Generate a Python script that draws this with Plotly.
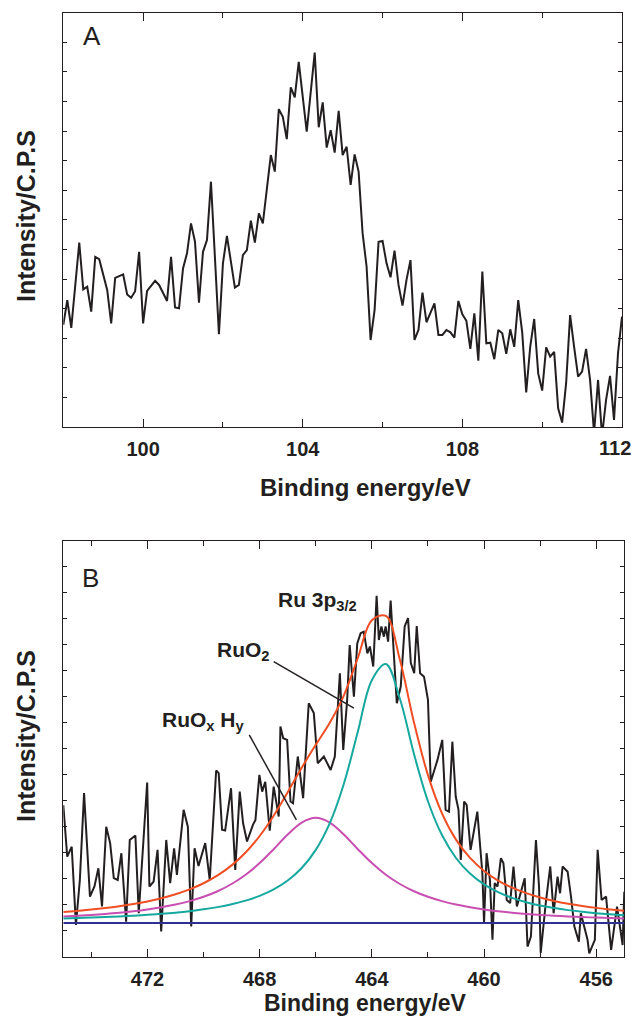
import plotly.graph_objects as go

# ---------------- Panel A data (binding energy, eV ; intensity, a.u.) ----------------
A_energy = [98.0,98.1,98.2,98.4,98.5,98.6,98.7,98.8,98.9,99.1,99.2,99.3,99.5,99.6,99.7,99.8,99.9,100.0,100.1,100.3,
            100.4,100.6,100.7,100.8,100.9,101.0,101.1,101.2,101.3,101.4,101.5,101.6,101.7,101.9,102.0,102.1,102.3,102.4,102.5,102.6,
            102.7,102.8,102.9,103.0,103.2,103.3,103.4,103.5,103.6,103.7,103.8,103.9,104.1,104.3,104.4,104.5,104.6,104.7,104.8,104.9,
            105.0,105.1,105.2,105.3,105.4,105.5,105.6,105.7,105.8,105.9,106.0,106.1,106.2,106.3,106.4,106.5,106.6,106.7,106.8,106.9,
            107.0,107.1,107.2,107.3,107.4,107.5,107.6,107.7,107.8,107.9,108.0,108.1,108.2,108.3,108.4,108.5,108.6,108.7,108.8,108.9,
            109.0,109.1,109.2,109.3,109.4,109.5,109.6,109.7,109.8,109.9,110.0,110.1,110.2,110.3,110.4,110.5,110.6,110.7,110.8,110.9,
            111.0,111.1,111.2,111.3,111.4,111.5,111.6,111.7,111.8,111.9,112.0]
A_intensity = [3.45,4.29,3.35,6.23,4.65,4.74,3.90,5.75,5.67,4.63,3.50,5.04,5.16,4.48,4.37,4.59,5.92,3.50,4.60,4.94,
               4.80,4.26,5.75,4.04,4.01,5.36,5.87,6.88,6.26,4.20,5.92,6.32,8.29,3.14,5.53,6.46,4.71,4.80,5.81,5.98,
               6.97,6.23,7.22,6.88,9.19,8.63,10.74,10.48,9.73,11.48,11.14,12.34,9.98,12.65,10.13,10.97,9.44,10.03,9.27,10.68,
               9.19,9.47,8.18,9.21,8.63,6.55,5.42,2.94,3.95,6.26,6.29,5.53,5.06,5.96,4.80,4.10,4.97,5.64,2.94,3.28,
               4.54,3.54,3.86,4.18,3.11,3.11,3.28,3.20,3.02,4.26,3.81,3.59,2.64,3.84,2.24,5.25,2.83,2.85,2.29,3.28,
               3.17,2.47,3.30,2.71,4.29,3.19,1.17,2.71,3.65,1.81,1.23,2.69,2.38,2.54,0.63,0.15,1.48,3.78,2.71,1.70,
               1.87,2.64,1.59,-0.2,1.59,-0.3,0.91,1.73,0.24,2.49,3.73]

# ---------------- Panel B data ----------------
B_energy = [475.0,474.86,474.70,474.55,474.41,474.26,474.05,473.89,473.75,473.62,
            473.47,473.33,473.20,473.06,472.93,472.76,472.63,472.43,472.31,472.01,
            471.93,471.78,471.64,471.51,471.33,471.19,471.05,470.95,470.71,470.56,
            470.44,470.32,470.18,469.94,469.78,469.55,469.46,469.34,469.23,469.02,
            468.87,468.71,468.59,468.45,468.24,468.15,468.01,467.91,467.80,467.64,
            467.50,467.32,467.26,467.16,467.02,466.90,466.81,466.64,466.45,466.25,
            466.07,465.93,465.71,465.47,465.32,465.14,465.02,464.88,464.79,464.64,
            464.52,464.40,464.29,464.16,464.07,463.95,463.83,463.75,463.66,463.57,
            463.51,463.42,463.33,463.23,463.11,462.97,462.83,462.71,462.61,462.49,
            462.40,462.28,462.14,462.00,461.90,461.66,461.49,461.37,461.25,461.13,
            461.01,460.91,460.83,460.71,460.62,460.48,460.24,460.06,460.00,459.91,
            459.79,459.70,459.62,459.52,459.40,459.31,459.19,459.07,458.95,458.83,
            458.71,458.55,458.45,458.33,458.15,458.04,457.98,457.80,457.64,457.52,
            457.38,457.29,457.20,457.02,456.90,456.78,456.62,456.55,456.31,456.25,
            456.05,455.95,455.81,455.65,455.47,455.26,455.06,455.0]
B_intensity = [4.53,2.55,2.93,-0.08,1.65,4.99,1.01,1.40,2.10,0.63,
               3.70,3.07,1.72,1.65,2.68,0.05,3.19,3.36,0.37,5.40,
               1.40,1.59,2.81,-0.33,3.19,1.53,2.87,1.85,4.35,3.70,
               -0.14,2.87,2.19,3.07,1.65,5.86,5.76,3.58,3.55,5.18,
               2.04,5.05,3.83,3.13,3.77,3.96,5.69,5.05,5.43,3.55,
               5.24,4.09,7.55,7.10,7.04,4.67,4.60,6.40,4.80,8.45,
               8.07,6.14,6.40,5.88,6.40,9.60,6.65,8.58,10.69,8.70,
               10.75,11.14,11.20,10.37,10.63,9.86,12.58,10.88,11.40,11.01,
               11.40,10.82,12.40,10.76,8.45,9.09,11.40,11.72,9.99,9.60,
               11.42,9.60,9.47,8.58,5.43,6.27,7.04,4.35,4.28,6.97,
               4.86,4.35,2.42,4.67,4.54,2.81,4.28,1.91,-0.01,2.68,
               1.65,-0.65,1.53,1.40,2.49,2.30,0.88,0.76,2.17,0.63,
               1.14,1.72,-0.91,-0.53,3.19,1.40,-1.15,0.76,2.17,0.37,
               1.78,1.14,2.17,1.97,1.01,-0.14,-0.72,0.37,-0.65,-1.17,
               -0.65,2.81,0.88,1.01,-1.04,0.63,-0.85,1.20]

# fitted components (above the background)
fit_energy = [475.0,474.5,474.0,473.5,473.0,472.5,472.0,471.5,471.0,470.5,
              470.0,469.5,469.0,468.5,468.0,467.5,467.0,466.5,466.0,465.5,
              465.0,464.5,464.0,463.5,463.0,462.5,462.0,461.5,461.0,460.5,
              460.0,459.5,459.0,458.5,458.0,457.5,457.0,456.5,456.0,455.5,455.0]
fit_RuO2 = [0.170,0.186,0.204,0.224,0.248,0.276,0.309,0.348,0.395,0.451,
            0.521,0.607,0.716,0.857,1.041,1.289,1.629,2.110,2.809,3.840,
            5.345,7.353,9.336,9.956,8.621,6.503,4.678,3.378,2.497,1.897,
            1.479,1.180,0.961,0.796,0.669,0.570,0.491,0.427,0.375,0.332,0.295]
fit_RuOxHy = [0.248,0.276,0.308,0.347,0.394,0.450,0.518,0.601,0.706,0.837,
              1.004,1.218,1.496,1.852,2.301,2.835,3.398,3.858,4.040,3.858,
              3.398,2.835,2.301,1.852,1.496,1.218,1.004,0.837,0.706,0.601,
              0.518,0.450,0.394,0.347,0.308,0.276,0.248,0.224,0.203,0.185,0.169]
fit_envelope = [0.418,0.462,0.512,0.571,0.642,0.726,0.827,0.949,1.101,1.288,
                1.525,1.825,2.212,2.709,3.342,4.124,5.027,5.968,6.849,7.698,
                8.743,10.188,11.637,11.808,10.117,7.721,5.682,4.215,3.203,2.498,
                1.997,1.630,1.355,1.143,0.977,0.846,0.739,0.651,0.578,0.517,0.464]
bg_energy = [475.0, 455.0]
bg_intensity = [0.0, 0.0]

A_ticks = [100, 104, 108, 112]
B_ticks = [472, 468, 464, 460, 456]

# The page body has an 8 px margin, so the figure is drawn 8 px in from the corner.
OFF = 8
W, H = 641 - 2 * OFF, 1025 - 2 * OFF
INK = '#231f20'
FONT = 'Liberation Sans, Arial, sans-serif'

def px(x):
    return (x - OFF) / W

def py(y):
    return 1 - (y - OFF) / H

fig = go.Figure()

fig.add_trace(go.Scatter(x=A_energy, y=A_intensity, mode='lines', xaxis='x', yaxis='y',
                         line=dict(color=INK, width=2), showlegend=False))

fig.add_trace(go.Scatter(x=B_energy, y=B_intensity, mode='lines', xaxis='x2', yaxis='y2',
                         line=dict(color=INK, width=2), showlegend=False))
fig.add_trace(go.Scatter(x=bg_energy, y=bg_intensity, mode='lines', xaxis='x2', yaxis='y2',
                         line=dict(color='#2e3192', width=2), showlegend=False))
fig.add_trace(go.Scatter(x=fit_energy, y=fit_RuOxHy, mode='lines', xaxis='x2', yaxis='y2',
                         line=dict(color='#c84fb1', width=2, shape='spline'), showlegend=False))
fig.add_trace(go.Scatter(x=fit_energy, y=fit_RuO2, mode='lines', xaxis='x2', yaxis='y2',
                         line=dict(color='#16a89e', width=2, shape='spline'), showlegend=False))
fig.add_trace(go.Scatter(x=fit_energy, y=fit_envelope, mode='lines', xaxis='x2', yaxis='y2',
                         line=dict(color='#f04e23', width=2, shape='spline'), showlegend=False))

common = dict(showline=True, linecolor=INK, linewidth=1.2, mirror='ticks', ticks='inside',
              tickcolor=INK, tickwidth=1.2, showgrid=False, zeroline=False)
tickfont = dict(family=FONT, size=20, color=INK, weight='bold')

# the last tick label of panel A sits at the page edge; it is written as an annotation
# (right-aligned to the figure edge) so that it is not dropped or overflow the page
A_ticks_in = A_ticks[:-1]
A_ticks_edge = A_ticks[-1]

fig.update_layout(
    width=W, height=H, margin=dict(l=0, r=0, t=0, b=0),
    paper_bgcolor='white', plot_bgcolor='white', showlegend=False,
    xaxis=dict(common, domain=[px(63.3), px(622)], anchor='y', range=[98, 112],
               tickvals=A_ticks, ticktext=[str(t) for t in A_ticks_in] + [''],
               ticklen=8, tickfont=tickfont, ticklabelstandoff=4,
               minor=dict(ticks='inside', tickvals=[102, 106, 110], ticklen=5, tickcolor=INK)),
    yaxis=dict(common, domain=[py(427), py(12.7)], anchor='x', range=[0, 14],
               tick0=0, dtick=1, ticklen=4, showticklabels=False),
    xaxis2=dict(common, domain=[px(63.3), px(624.3)], anchor='y2', range=[475, 455],
                tickvals=B_ticks, ticklen=8, tickfont=tickfont, ticklabelstandoff=4,
                minor=dict(ticks='inside', tickvals=[474, 470, 466, 462, 458], ticklen=5, tickcolor=INK)),
    yaxis2=dict(common, domain=[py(956.7), py(540.7)], anchor='x2', range=[-1.3, 14.7],
                tick0=-1.3, dtick=1, ticklen=4, showticklabels=False),
)

ann = []
ann.append(dict(text=str(A_ticks_edge), x=1.0, y=py(448), xref='paper', yref='paper', showarrow=False,
                font=tickfont, xanchor='right', yanchor='middle'))
# axis titles
for yc in (216, 736):
    ann.append(dict(text='<b>Intensity/C.P.S</b>', x=px(26), y=py(yc), xref='paper', yref='paper',
                    textangle=-90, showarrow=False, font=dict(family=FONT, size=25, color=INK),
                    xanchor='center', yanchor='middle'))
for yc, size in ((487, 24), (1003, 23)):
    ann.append(dict(text='<b>Binding energy/eV</b>', x=px(365), y=py(yc), xref='paper', yref='paper',
                    showarrow=False, font=dict(family=FONT, size=size, color=INK),
                    xanchor='center', yanchor='middle'))
# panel letters
ann.append(dict(text='A', x=px(92), y=py(36), xref='paper', yref='paper', showarrow=False,
                font=dict(family=FONT, size=26, color=INK), xanchor='center', yanchor='middle'))
ann.append(dict(text='B', x=px(90), y=py(578), xref='paper', yref='paper', showarrow=False,
                font=dict(family=FONT, size=26, color=INK), xanchor='center', yanchor='middle'))
# peak labels (data coordinates of panel B)
lab_font = dict(family=FONT, size=21, color=INK, weight='bold')
ann.append(dict(text='Ru 3p<sub>3/2</sub>', x=467.40, y=12.4, xref='x2', yref='y2', showarrow=False,
                font=lab_font, xanchor='left', yanchor='middle'))
ann.append(dict(text='RuO<sub>2</sub>', x=469.60, y=10.45, xref='x2', yref='y2', showarrow=False,
                font=lab_font, xanchor='left', yanchor='middle'))
ann.append(dict(text='RuO<sub>x</sub> H<sub>y</sub>', x=471.55, y=7.75, xref='x2', yref='y2', showarrow=False,
                font=lab_font, xanchor='left', yanchor='middle'))
fig.update_layout(annotations=ann)

fig.add_shape(type='line', xref='x2', yref='y2', x0=467.5, y0=10.05, x1=464.64, y1=8.26,
              line=dict(color=INK, width=1.5))
fig.add_shape(type='line', xref='x2', yref='y2', x0=468.37, y0=7.23, x1=466.69, y1=3.96,
              line=dict(color=INK, width=1.5))

fig.write_html('out.html')
